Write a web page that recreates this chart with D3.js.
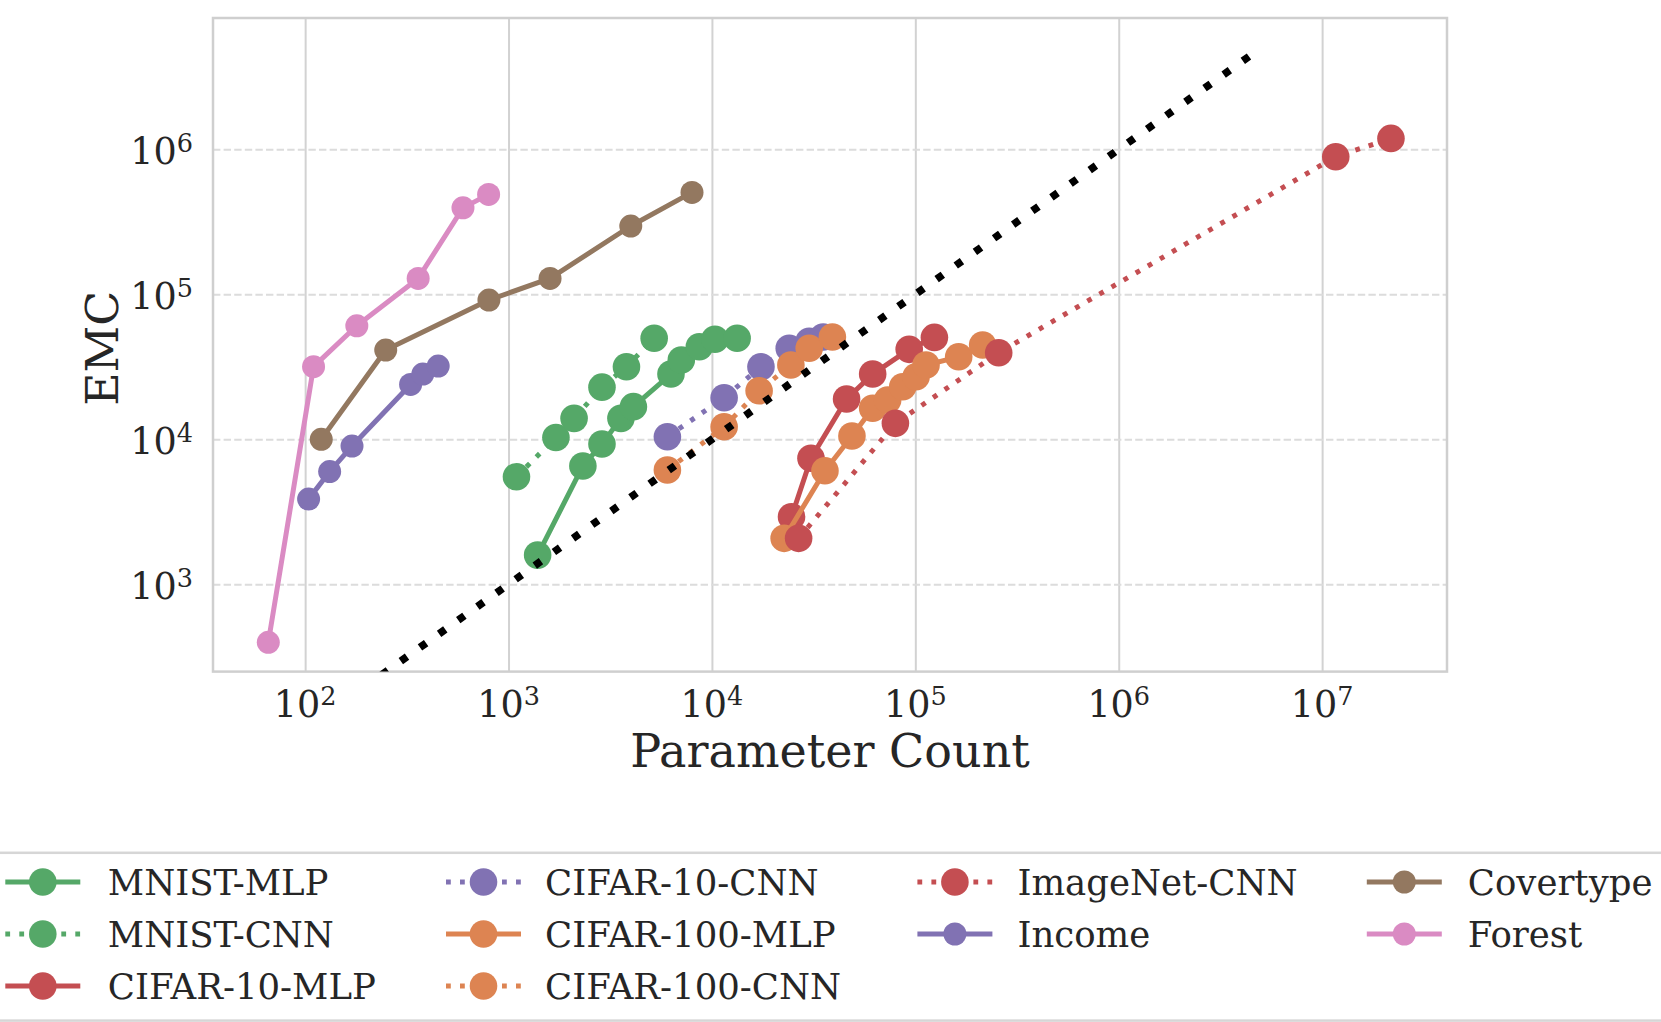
<!DOCTYPE html>
<html><head><meta charset="utf-8">
<script src="https://cdn.jsdelivr.net/npm/d3@7"></script>
<style>
body{margin:0;background:#fff;}
svg{display:block;}
text{font-family:"DejaVu Serif";fill:#262626;}
</style>
</head><body>
<svg id="chart" width="1661" height="1022"></svg>
<script>
// ---------- data ----------
const seriesNames = ["MNIST-MLP","MNIST-CNN","CIFAR-10-MLP","CIFAR-10-CNN","CIFAR-100-MLP","CIFAR-100-CNN","ImageNet-CNN","Income","Covertype","Forest"];
const seriesColors = ["#55A868","#55A868","#C44E52","#8172B3","#DD8452","#DD8452","#C44E52","#8172B3","#937860","#DA8BC3"];
const seriesDotted = [false,true,false,true,false,true,true,false,false,false];
const seriesTabular = [false,false,false,false,false,false,false,true,true,true];

const paramsMnistMlp = [1390, 2320, 2880, 3570, 4110, 6290, 7070, 8670, 10350, 13300];
const emcMnistMlp    = [1590, 6550, 9280, 13950, 16800, 28200, 35200, 43500, 49000, 49800];

const paramsMnistCnn = [1094, 1710, 2100, 2880, 3800, 5200];
const emcMnistCnn    = [5520, 10300, 13950, 22900, 31700, 49800];

const paramsCifar10Mlp = [24620, 30690, 45920, 61700, 93300, 124100];
const emcCifar10Mlp    = [2925, 7400, 18970, 28190, 41760, 50470];

const paramsCifar10Cnn = [6040, 11480, 17420, 23990, 30080, 35240];
const emcCifar10Cnn    = [10420, 19370, 31700, 42470, 47500, 50800];

const paramsCifar100Mlp = [22650, 35950, 48800, 61700, 73100, 86700, 100800, 112900, 163400, 214300];
const emcCifar100Mlp    = [2075, 6070, 10540, 16370, 18660, 23060, 27040, 32530, 37130, 44690];

const paramsCifar100Cnn = [6040, 11480, 17060, 24440, 30080, 39100];
const emcCifar100Cnn    = [6140, 12210, 21620, 32530, 42470, 50800];

const paramsImagenetCnn = [26680, 79800, 257000, 11670000, 21800000];
const emcImagenetCnn    = [2075, 12890, 39540, 890000, 1190000];

const paramsIncome = [104, 132, 170, 330, 379, 451];
const emcIncome    = [3870, 5990, 8990, 23900, 28200, 32000];

const paramsCovertype = [120, 249, 801, 1600, 3990, 7980];
const emcCovertype    = [10000, 41300, 91400, 128800, 296000, 505000];

const paramsForest = [65.9, 110, 179.5, 359.5, 597, 798];
const emcForest    = [398, 31700, 60700, 128800, 395000, 489000];

// reference line EMC = parameter count
const refParams = [100, 5000000];
const refEmc    = [100, 5000000];

const xTickValues = [1e2, 1e3, 1e4, 1e5, 1e6, 1e7];
const xTickExps   = ["2","3","4","5","6","7"];
const yTickValues = [1e3, 1e4, 1e5, 1e6];
const yTickExps   = ["3","4","5","6"];
const xDomain = [Math.pow(10,1.547), Math.pow(10,7.614)];
const yDomain = [Math.pow(10,2.398), Math.pow(10,6.906)];

const allParams = [paramsMnistMlp,paramsMnistCnn,paramsCifar10Mlp,paramsCifar10Cnn,paramsCifar100Mlp,paramsCifar100Cnn,paramsImagenetCnn,paramsIncome,paramsCovertype,paramsForest];
const allEmc = [emcMnistMlp,emcMnistCnn,emcCifar10Mlp,emcCifar10Cnn,emcCifar100Mlp,emcCifar100Cnn,emcImagenetCnn,emcIncome,emcCovertype,emcForest];

// ---------- layout ----------
const L = 213, R = 1447, T = 18, B = 671.6;
const svg = d3.select("#chart");
const x = d3.scaleLog().domain(xDomain).range([L, R]);
const y = d3.scaleLog().domain(yDomain).range([B, T]);

svg.append("rect").attr("width",1661).attr("height",1022).attr("fill","#fff");

const defs = svg.append("defs");
defs.append("clipPath").attr("id","clip").append("rect")
  .attr("x",L).attr("y",T).attr("width",R-L).attr("height",B-T);

// grid via axes
const gx = svg.append("g").attr("transform",`translate(0,${B})`)
  .call(d3.axisBottom(x).tickValues(xTickValues).tickSize(-(B-T)).tickFormat(""));
gx.select(".domain").remove();
gx.selectAll(".tick line").attr("stroke","#d2d2d2").attr("stroke-width",2);

const gy = svg.append("g").attr("transform",`translate(${L},0)`)
  .call(d3.axisLeft(y).tickValues(yTickValues).tickSize(-(R-L)).tickFormat(""));
gy.select(".domain").remove();
gy.selectAll(".tick line").attr("stroke","#dcdcdc").attr("stroke-width",2).attr("stroke-dasharray","7.4 3.2");

// frame
svg.append("rect").attr("x",L).attr("y",T).attr("width",R-L).attr("height",B-T)
  .attr("fill","none").attr("stroke","#cfcfcf").attr("stroke-width",2.5);

// tick labels
const tickFont = 36.5, supFont = 25.5;
const xl = svg.append("g");
xTickValues.forEach((v,i)=>{
  const t = xl.append("text").attr("x",x(v)).attr("y",717).attr("text-anchor","middle").attr("font-size",tickFont);
  t.append("tspan").text("10");
  t.append("tspan").attr("font-size",supFont).attr("dy",-12.5).text(xTickExps[i]);
});
const yl = svg.append("g");
yTickValues.forEach((v,i)=>{
  const t = yl.append("text").attr("x",193).attr("y",y(v)+15).attr("text-anchor","end").attr("font-size",tickFont);
  t.append("tspan").text("10");
  t.append("tspan").attr("font-size",supFont).attr("dy",-12.5).text(yTickExps[i]);
});

// axis labels
svg.append("text").attr("x",(L+R)/2).attr("y",767).attr("text-anchor","middle").attr("font-size",46).text("Parameter Count");
svg.append("text").attr("transform",`translate(118,${(T+B)/2+3.5}) rotate(-90)`).attr("text-anchor","middle").attr("font-size",45.7).text("EMC");

// series
const plot = svg.append("g").attr("clip-path","url(#clip)");
const line = d3.line().x(d=>x(d[0])).y(d=>y(d[1]));
const lw = 5;
seriesNames.forEach((name,i)=>{
  const pts = allParams[i].map((p,j)=>[p, allEmc[i][j]]);
  const g = plot.append("g");
  g.append("path").datum(pts).attr("d",line).attr("fill","none")
    .attr("stroke",seriesColors[i]).attr("stroke-width",lw)
    .attr("stroke-dasharray",seriesDotted[i] ? "4.8 9.2" : null)
    .attr("stroke-linejoin","round");
  g.selectAll("circle").data(pts).join("circle")
    .attr("cx",d=>x(d[0])).attr("cy",d=>y(d[1]))
    .attr("r", seriesTabular[i] ? 11.5 : 13.8)
    .attr("fill",seriesColors[i]);
});
// reference line
plot.append("path").datum(refParams.map((p,j)=>[p, refEmc[j]])).attr("d",line)
  .attr("fill","none").attr("stroke","#000").attr("stroke-width",7.6)
  .attr("stroke-dasharray","7.6 15.9");

// legend
const lg = svg.append("g");
lg.append("rect").attr("x",-10).attr("y",852.8).attr("width",1681).attr("height",1020.6-852.8)
  .attr("fill","#fff").attr("stroke","#d6d6d6").attr("stroke-width",2.5);
const colX = [5.3, 446, 917.4, 1366.8];
const textX = [107.8, 545, 1017.4, 1467.8];
const rowY = [882, 934, 986];
const colOf = [0,0,0,1,1,1,2,2,3,3];
const rowOf = [0,1,2,0,1,2,0,1,0,1];
seriesNames.forEach((name,i)=>{
  const cx = colX[colOf[i]], cy = rowY[rowOf[i]];
  lg.append("line").attr("x1",cx).attr("x2",cx+75).attr("y1",cy).attr("y2",cy)
    .attr("stroke",seriesColors[i]).attr("stroke-width",lw)
    .attr("stroke-dasharray",seriesDotted[i] ? "4.8 9.2" : null);
  lg.append("circle").attr("cx",cx+37.5).attr("cy",cy).attr("r",seriesTabular[i] ? 11.5 : 13.8).attr("fill",seriesColors[i]);
  lg.append("text").attr("x",textX[colOf[i]]).attr("y",cy+13).attr("font-size",35.5).text(name);
});
</script>
</body></html>
